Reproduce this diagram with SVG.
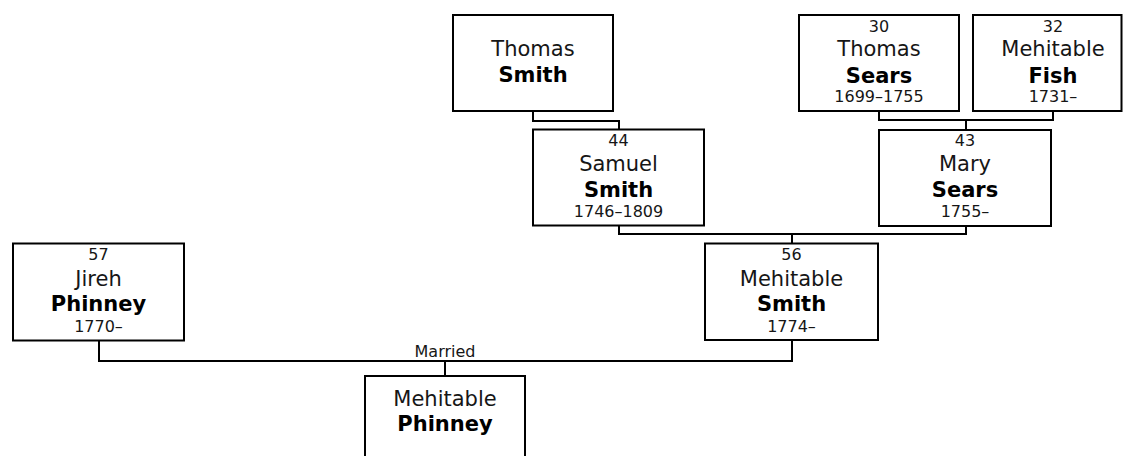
<svg xmlns="http://www.w3.org/2000/svg" width="1123" height="456" viewBox="0 0 1123 456">
<style>
.box{fill:#fff;stroke:#000;stroke-width:2}
.con{fill:none;stroke:#000;stroke-width:2}
text{font-family:"DejaVu Sans","Verdana",sans-serif;fill:#161616;text-anchor:middle}
.sm{font-size:16px}
.nm{font-size:21px}
.b{font-weight:bold;fill:#000}
</style>
<rect width="1123" height="456" fill="#fff"/>
<g id="connectors">
<path class="con" d="M533 111V121H619V129.5"/>
<path class="con" d="M879 111V120H1053V111M966 120V130"/>
<path class="con" d="M619 225.5V234H966V226M792 234V243.5"/>
<path class="con" d="M99 340.5V361H792V340M445 361V376"/>
<text class="sm" x="445" y="357">Married</text>
</g>
<g id="thomas-smith">
<rect class="box" x="453" y="15" width="160" height="96"/>
<text class="nm" x="533" y="56">Thomas</text>
<text class="nm b" x="533" y="82">Smith</text>
</g>
<g id="thomas-sears">
<rect class="box" x="799" y="15" width="160" height="96"/>
<text class="sm" x="879" y="31.5">30</text>
<text class="nm" x="879" y="56">Thomas</text>
<text class="nm b" x="879" y="82.5">Sears</text>
<text class="sm" x="879" y="102">1699–1755</text>
</g>
<g id="mehitable-fish">
<rect class="box" x="973" y="15" width="148.5" height="96"/>
<text class="sm" x="1053" y="31.5">32</text>
<text class="nm" x="1053" y="56">Mehitable</text>
<text class="nm b" x="1053" y="82.5">Fish</text>
<text class="sm" x="1053" y="102">1731–</text>
</g>
<g id="samuel-smith">
<rect class="box" x="533" y="129.5" width="171" height="96"/>
<text class="sm" x="618.5" y="145.5">44</text>
<text class="nm" x="618.5" y="170.7">Samuel</text>
<text class="nm b" x="618.5" y="196.7">Smith</text>
<text class="sm" x="618.5" y="217.3">1746–1809</text>
</g>
<g id="mary-sears">
<rect class="box" x="879" y="130" width="172" height="96"/>
<text class="sm" x="965" y="145.5">43</text>
<text class="nm" x="965" y="171">Mary</text>
<text class="nm b" x="965" y="197">Sears</text>
<text class="sm" x="965" y="217.3">1755–</text>
</g>
<g id="jireh-phinney">
<rect class="box" x="13" y="243.5" width="171" height="97"/>
<text class="sm" x="98.5" y="259.5">57</text>
<text class="nm" x="98.5" y="285.5">Jireh</text>
<text class="nm b" x="98.5" y="311">Phinney</text>
<text class="sm" x="98.5" y="331.7">1770–</text>
</g>
<g id="mehitable-smith">
<rect class="box" x="705" y="243.5" width="173" height="96.5"/>
<text class="sm" x="791.5" y="259.5">56</text>
<text class="nm" x="791.5" y="285.5">Mehitable</text>
<text class="nm b" x="791.5" y="311">Smith</text>
<text class="sm" x="791.5" y="331.7">1774–</text>
</g>
<g id="mehitable-phinney">
<rect class="box" x="365" y="376" width="160" height="96"/>
<text class="nm" x="445" y="406">Mehitable</text>
<text class="nm b" x="445" y="431">Phinney</text>
</g>
</svg>
